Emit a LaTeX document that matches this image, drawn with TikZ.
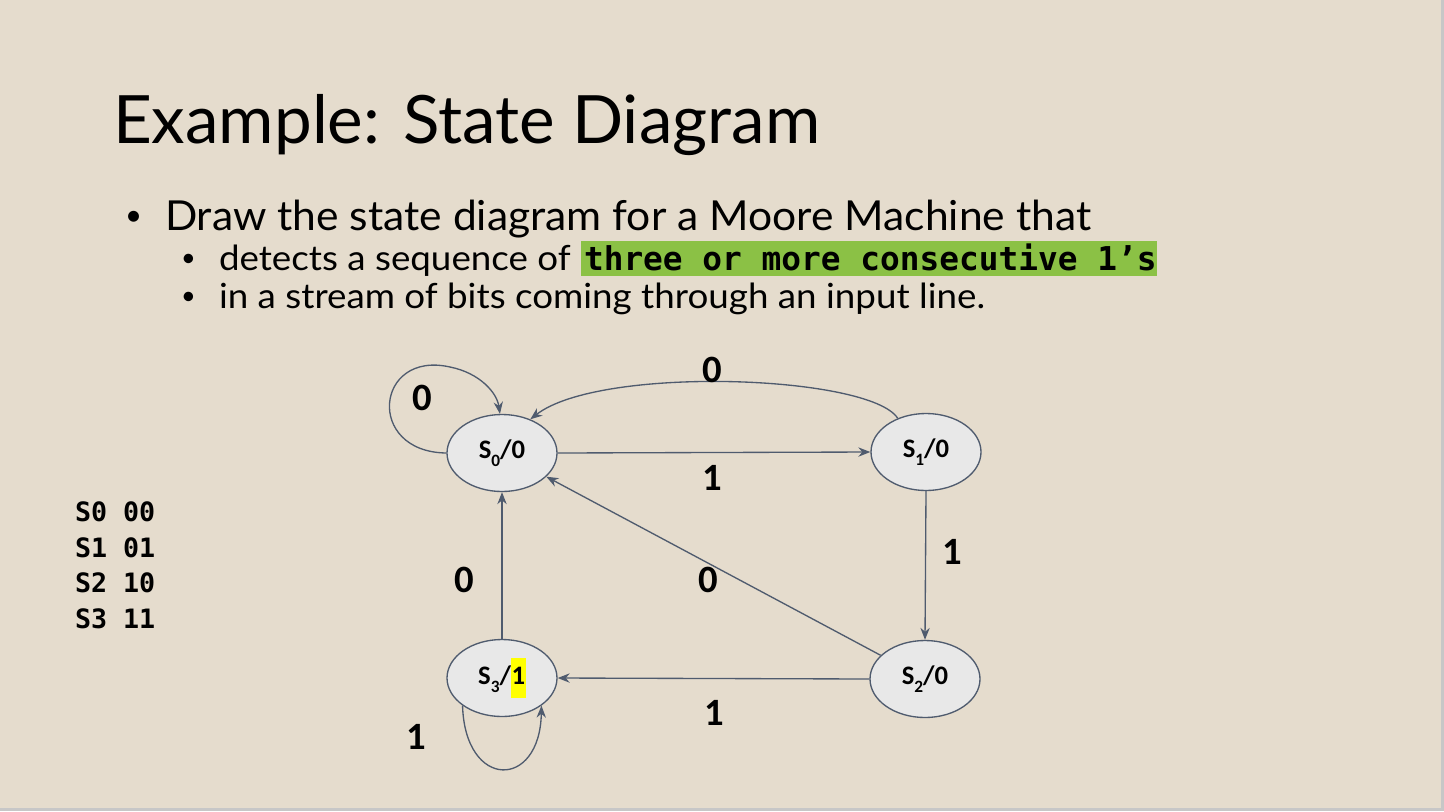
\documentclass[tikz,border=0pt]{standalone}
\usepackage{fontspec}
\setmainfont{Lato}
\newfontfamily\calib{Carlito}
\newfontfamily\cons{DejaVu Sans Mono}
\usetikzlibrary{shapes.geometric,arrows.meta}
\definecolor{bg}{HTML}{E5DCCD}
\definecolor{edgec}{HTML}{4F5B6E}
\definecolor{statefill}{HTML}{E8E8E8}
\definecolor{hlgreen}{HTML}{8BC145}
\definecolor{hlyellow}{HTML}{FFFF00}
\newcommand{\stsub}[1]{\raisebox{-0.3em}{\fontsize{13}{13}\selectfont #1}}
\begin{document}
\begin{tikzpicture}[x=0.75pt,y=-0.75pt,
  txt/.style={anchor=base west,inner sep=0pt,outer sep=0pt},
  state/.style={ellipse,draw=edgec,fill=statefill,line width=1pt,minimum width=82.5pt,minimum height=57.75pt,inner sep=0pt,font=\calib\bfseries\fontsize{20}{24}\selectfont},
  edgelbl/.style={inner sep=0pt,font=\calib\bfseries\fontsize{29}{34}\selectfont},
  conn/.style={draw=edgec,line width=1pt,-{Stealth[length=9pt,width=7pt]}},
  tbl/.style={txt,font=\cons\bfseries\fontsize{20}{24}\selectfont}]
\useasboundingbox (0,0) rectangle (1444,811);
\fill[bg] (0,0) rectangle (1444,811);
\fill[black!22] (1441,0) rectangle (1444,811);
\fill[black!22] (0,808) rectangle (1444,811);

% title
\node[txt,font=\fontsize{50}{60}\selectfont] (title) at (113,143) {\scalebox{1.01}[1]{Example: State Diagram}};
% bullets
\node[txt,font=\fontsize{22}{26}\selectfont] (b1) at (125,225) {•};
\node[txt,font=\fontsize{31}{36}\selectfont] (t1) at (165,230) {\scalebox{1.03}[1]{Draw the state diagram for a Moore Machine that}};
\node[txt,font=\fontsize{19}{23}\selectfont] (b2) at (181,266) {•};
\fill[hlgreen] (581,241) rectangle (1157,276);
\node[txt,font=\fontsize{26}{30}\selectfont] (t2) at (219,270) {\scalebox{1.06}[1]{detects a sequence of}};
\node[txt,font=\cons\bfseries\fontsize{24.6}{29}\selectfont] (t2h) at (584,270) {three or more consecutive 1’s};
\node[txt,font=\fontsize{19}{23}\selectfont] (b3) at (181,304) {•};
\node[txt,font=\fontsize{26}{30}\selectfont] (t3) at (219,308) {\scalebox{1.06}[1]{in a stream of bits coming through an input line.}};

% table
\node[tbl] (r0) at (75,521) {S0 00};
\node[tbl] (r1) at (75,557) {S1 01};
\node[tbl] (r2) at (75,592) {S2 10};
\node[tbl] (r3) at (75,628) {S3 11};

% states
\node[state] (s0) at (502,453) {S\stsub{0}/0};
\node[state] (s1) at (926,452) {S\stsub{1}/0};
\node[state] (s2) at (925,679) {S\stsub{2}/0};
\node[state] (s3) at (502,678) {S\stsub{3}/\colorbox{hlyellow}{\kern-2.5pt\strut 1\kern-2.5pt}};

% edges
\draw[conn] (s0.east) -- (s1.west);
\draw[conn] (s1.130) .. controls (870,375) and (600,365) .. (s0.50);
\draw[conn] (s1.south) -- (s2.north);
\draw[conn] (s2) -- (s0);
\draw[conn] (s2.west) -- (s3.east);
\draw[conn] (s3.north) -- (s0.south);
\draw[conn] (s0.west) .. controls (365,452) and (375,350) .. (450,367) .. controls (480,373) and (497,393) .. (s0.93);
\draw[conn] (s3.-145) .. controls (465,790) and (540,790) .. (s3.-35);

% edge labels
\node[edgelbl] (l01) at (712,478) {1};
\node[edgelbl] (l10) at (712,370) {0};
\node[edgelbl] (l12) at (952,552) {1};
\node[edgelbl] (l20) at (708,580) {0};
\node[edgelbl] (l23) at (714,713) {1};
\node[edgelbl] (l30) at (464,580) {0};
\node[edgelbl] (l00) at (422,398) {0};
\node[edgelbl] (l33) at (416,737) {1};
\end{tikzpicture}
\end{document}
